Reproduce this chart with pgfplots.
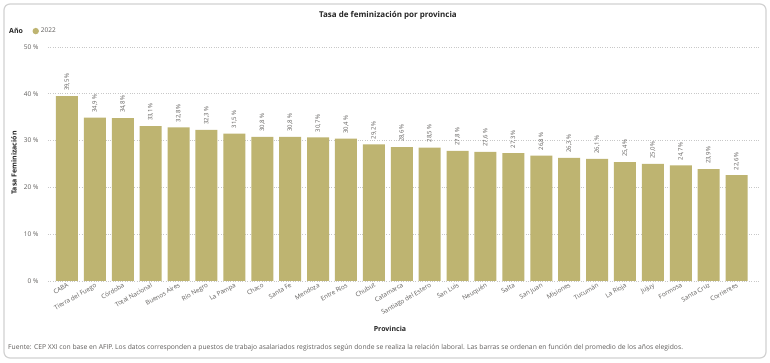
\documentclass[border=0pt]{standalone}
\usepackage{fontspec}
\setmainfont{Open Sans}
\usepackage{pgfplots}
\pgfplotsset{compat=1.18}
\definecolor{barcol}{RGB}{190,180,113}
\definecolor{txtgray}{RGB}{96,94,92}
\definecolor{gridgray}{RGB}{200,200,200}
\begin{document}
\begin{tikzpicture}[x=1pt,y=1pt]
\path[use as bounding box] (0,0) rectangle (770,363);
\fill[white] (0,0) rectangle (770,363);
\draw[gray!35, line width=1.2pt, rounded corners=6pt] (4,5) rectangle (766,359);
\node[font=\fontsize{8}{9}\selectfont\bfseries, text=black!85] at (388,348) {Tasa de feminización por provincia};
\node[font=\fontsize{7}{8}\selectfont\bfseries, text=black!85, anchor=west, inner sep=0pt] at (9,332) {Año};
\node[font=\fontsize{7}{8}\selectfont\bfseries, text=black!85] at (390,34) {Provincia};
\node[font=\fontsize{7}{8}\selectfont\bfseries, text=black!85, rotate=90] at (14,200) {Tasa Feminización};
\node[font=\fontsize{6.75}{7.5}\selectfont, text=txtgray, anchor=west, inner sep=0pt] at (8,15) {Fuente: CEP XXI con base en AFIP. Los datos corresponden a puestos de trabajo asalariados registrados según donde se realiza la relación laboral. Las barras se ordenan en función del promedio de los años elegidos.};
\begin{axis}[
  at={(48pt,82pt)}, anchor=south west,
  scale only axis, width=712pt, height=234pt,
  xmin=-0.681, xmax=24.84, ymin=0, ymax=50,
  axis line style={draw=none},
  major tick length=0pt,
  ytick={0,10,20,30,40,50},
  yticklabels={0 \%,10 \%,20 \%,30 \%,40 \%,50 \%},
  yticklabel style={font=\fontsize{6.5}{7}\selectfont, text=txtgray, xshift=-6pt},
  ymajorgrids, grid style={gridgray, dotted, line width=0.8pt},
  xtick=data,
  xticklabels={CABA,Tierra del Fuego,Córdoba,Total Nacional,Buenos Aires,Río Negro,La Pampa,Chaco,Santa Fe,Mendoza,Entre Ríos,Chubut,Catamarca,Santiago del Estero,San Luis,Neuquén,Salta,San Juan,Misiones,Tucumán,La Rioja,Jujuy,Formosa,Santa Cruz,Corrientes},
  xticklabel style={font=\fontsize{6.3}{7}\selectfont, text=txtgray, rotate=30, anchor=north east, inner sep=1pt},
  /pgf/number format/assume math mode=true,
  nodes near coords={\pgfmathprintnumber[fixed,fixed zerofill,precision=1,use comma]{\pgfplotspointmeta}\,\%},
  nodes near coords style={font=\fontsize{6}{7}\selectfont, text=txtgray, rotate=90, anchor=west, inner xsep=5pt},
  legend style={at={(axis description cs:-0.022,1.068)}, anchor=west, draw=none, fill=none, font=\fontsize{6.5}{7}\selectfont, text=txtgray, inner sep=0pt, legend cell align=left},
  legend image code/.code={\fill[barcol] (0.15em,0pt) circle (3.2pt);},
]
\addplot[ybar, bar width=22pt, fill=barcol, draw=none] coordinates {
(0,39.5) (1,34.9) (2,34.8) (3,33.1) (4,32.8) (5,32.3) (6,31.5) (7,30.8) (8,30.8) (9,30.7)
(10,30.4) (11,29.2) (12,28.6) (13,28.5) (14,27.8) (15,27.6) (16,27.3) (17,26.8) (18,26.3) (19,26.1)
(20,25.4) (21,25.0) (22,24.7) (23,23.9) (24,22.6)};
\addlegendentry{2022}
\end{axis}
\end{tikzpicture}
\end{document}
